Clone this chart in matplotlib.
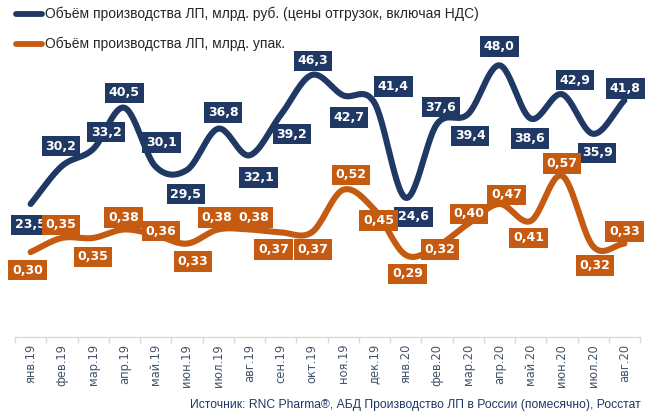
import numpy as np
import matplotlib
matplotlib.use("Agg")
import matplotlib.pyplot as plt
from matplotlib.lines import Line2D

months = ["янв.19", "фев.19", "мар.19", "апр.19", "май.19", "июн.19", "июл.19", "авг.19",
          "сен.19", "окт.19", "ноя.19", "дек.19", "янв.20", "фев.20", "мар.20", "апр.20",
          "май.20", "июн.20", "июл.20", "авг.20"]
rub = [23.5, 30.2, 33.2, 40.5, 30.1, 29.5, 36.8, 32.1, 39.2, 46.3, 42.7, 41.4,
       24.6, 37.6, 39.4, 48.0, 38.6, 42.9, 35.9, 41.8]
packs = [0.30, 0.35, 0.35, 0.38, 0.36, 0.33, 0.38, 0.38, 0.37, 0.37, 0.52, 0.45,
         0.29, 0.32, 0.40, 0.47, 0.41, 0.57, 0.32, 0.33]

series1_name = "Объём производства ЛП, млрд. руб. (цены отгрузок, включая НДС)"
series2_name = "Объём производства ЛП, млрд. упак."
source = "Источник: RNC Pharma®, АБД Производство ЛП в России (помесячно), Росстат"

BLUE = "#1F3864"
ORANGE = "#C55A11"

# label offsets in pixels (dx, dy; dy positive = up)
off_rub = [(0, -21), (-1, 20), (13, 17), (0, 15), (6, 24), (-1, -24), (5, 16), (9, -22),
           (11, -19), (1, 14), (6, -22), (19, 16), (8, -19), (4, 17), (2, -22), (0, 19),
           (-1, -20), (13, 14), (4, -19), (1, 12)]
off_pk = [(-3, -18), (-1, 13), (0, -19), (-1, 12), (5, 4), (6, -18), (-1, 12), (4, 12),
          (-7, -17), (1, -17), (8, 15), (4, -11), (2, -19), (3, -3), (1, 10), (7, 9),
          (-2, -17), (0, 12), (2, -19), (0, 12)]

plt.rcParams['font.family'] = ['DejaVu Sans']

fig = plt.figure(figsize=(6.55, 4.2), dpi=100)
ax = fig.add_axes([15/655, 83/420, 625/655, 283/420])
ax2 = ax.twinx()

def smooth(xs, ys, n=30):
    # Catmull-Rom style smoothing (like Excel smoothed lines)
    xs = np.asarray(xs, float); ys = np.asarray(ys, float)
    px = np.concatenate([[2*xs[0]-xs[1]], xs, [2*xs[-1]-xs[-2]]])
    py = np.concatenate([[2*ys[0]-ys[1]], ys, [2*ys[-1]-ys[-2]]])
    ox, oy = [], []
    for i in range(1, len(px)-2):
        p0, p1, p2, p3 = (np.array([px[j], py[j]]) for j in range(i-1, i+3))
        c1 = p1 + (p2 - p0) / 6
        c2 = p2 - (p3 - p1) / 6
        t = np.linspace(0, 1, n)[:, None]
        b = (1-t)**3*p1 + 3*(1-t)**2*t*c1 + 3*(1-t)*t**2*c2 + t**3*p2
        ox.extend(b[:, 0]); oy.extend(b[:, 1])
    return np.array(ox), np.array(oy)

x = np.arange(len(months))
sx, sy = smooth(x, rub)
ax.plot(sx, sy, color=BLUE, lw=4.4, solid_capstyle='round', zorder=3)
sx2, sy2 = smooth(x, packs)
ax2.plot(sx2, sy2, color=ORANGE, lw=4.4, solid_capstyle='round', zorder=3)

ax.set_xlim(-0.5, len(months)-0.5)
ax.set_ylim(0, 50)
ax2.set_ylim(0, 1.0)

for a in (ax, ax2):
    for s in ['top', 'right', 'left']:
        a.spines[s].set_visible(False)
    a.set_yticks([])
ax2.spines['bottom'].set_visible(False)
ax.spines['bottom'].set_color('#D9D9D9')
ax.spines['bottom'].set_linewidth(1.0)

ax.set_xticks(x)
ax.set_xticklabels(months, rotation=90, fontsize=8.3, color='#44546A')
ax.tick_params(axis='x', length=0, pad=5)
ax.set_xticks(np.arange(-0.5, len(months), 1), minor=True)
ax.tick_params(axis='x', which='minor', length=4, color='#D9D9D9', width=1)

def fmt(v, d):
    return f"{v:.{d}f}".replace('.', ',')

for i, v in enumerate(rub):
    dx, dy = off_rub[i]
    ax.annotate(fmt(v, 1), (i, v), xytext=(dx*0.72, dy*0.72), textcoords='offset points',
                ha='center', va='center', fontsize=9, fontweight='bold', color='white',
                bbox=dict(boxstyle='square,pad=0.3', fc=BLUE, ec='none'), zorder=5,
                annotation_clip=False)
for i, v in enumerate(packs):
    dx, dy = off_pk[i]
    ax2.annotate(fmt(v, 2), (i, v), xytext=(dx*0.72, dy*0.72), textcoords='offset points',
                 ha='center', va='center', fontsize=9, fontweight='bold', color='white',
                 bbox=dict(boxstyle='square,pad=0.3', fc=ORANGE, ec='none'), zorder=5,
                 annotation_clip=False)

# legend
for yy, col, name in [(14, BLUE, series1_name), (44, ORANGE, series2_name)]:
    fig.add_artist(Line2D([16/655, 42/655], [1-yy/420, 1-yy/420], color=col, lw=4.2,
                          solid_capstyle='round', transform=fig.transFigure))
    fig.text(45/655, 1-yy/420, name, fontsize=10, color='#262626', va='center', ha='left',
             family='Liberation Sans')

fig.text(641/655, 1-405/420, source, fontsize=8.7, color='#1F3864', ha='right', va='center',
         family='Liberation Sans')

fig.savefig("out.png", dpi=100)
